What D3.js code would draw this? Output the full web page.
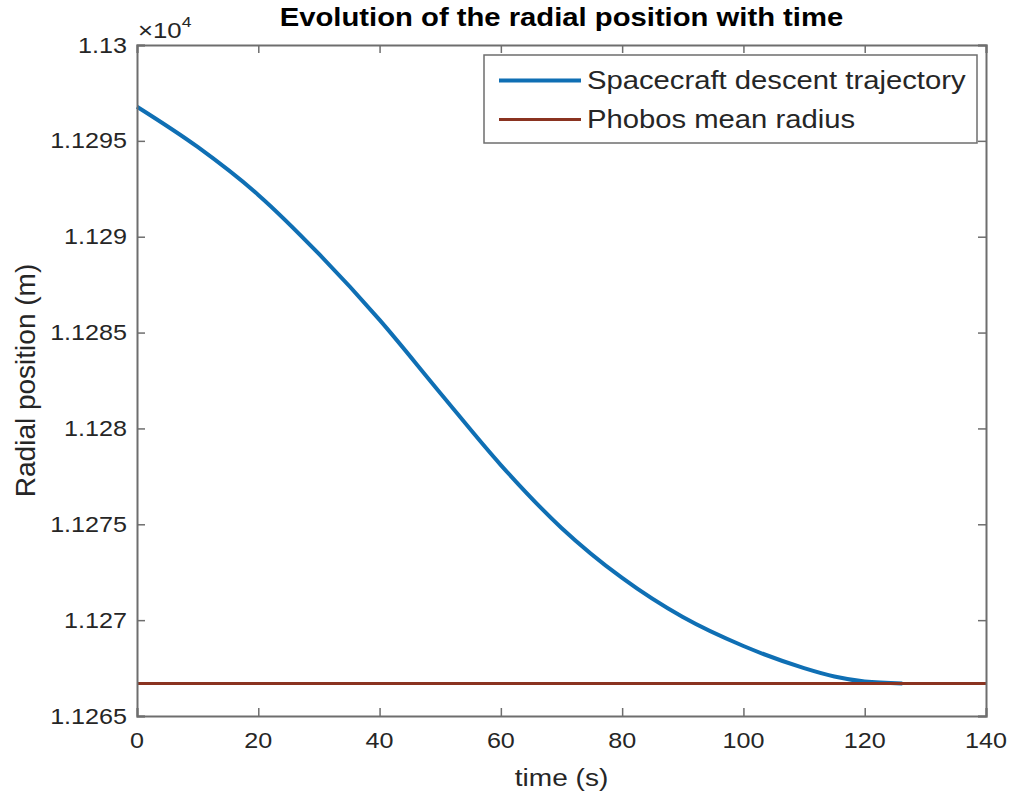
<!DOCTYPE html>
<html>
<head>
<meta charset="utf-8">
<script src="https://cdn.jsdelivr.net/npm/d3@7"></script>
<style>
  html, body { margin: 0; padding: 0; background: #fff; }
  svg { display: block; font-family: "Liberation Sans", Arial, Helvetica, sans-serif; }
</style>
</head>
<body>
<svg id="chart" width="1012" height="799"></svg>
<script>
// Descent trajectory samples: time (s) and radial distance (m)
const timeSec = [0, 10, 20, 30, 40, 50, 60, 70, 80, 90, 100, 110, 115, 120, 126.2];
const radiusM = [11296.78, 11294.68, 11292.18, 11289.10, 11285.66, 11281.85, 11278.09, 11274.81, 11272.20, 11270.16, 11268.65, 11267.50, 11267.06, 11266.80, 11266.70];

// Reference surface
const phobosRadius = 11266.7;

const xTicks = [0, 20, 40, 60, 80, 100, 120, 140];
const yTicks = [11265, 11270, 11275, 11280, 11285, 11290, 11295, 11300];
const yTickLabels = ["1.1265", "1.127", "1.1275", "1.128", "1.1285", "1.129", "1.1295", "1.13"];

const seriesNames = ["Spacecraft descent trajectory", "Phobos mean radius"];
const seriesColors = ["#0f6fb4", "#8a3320"];

const margin = { left: 137, right: 1012 - 986, top: 45, bottom: 799 - 716 };
const W = 1012, H = 799;
const stretch = 1.17;   // horizontal widening of all glyphs
const axisColor = "#6e6e6e";
const textColor = "#262626";

const svg = d3.select("#chart");

const x = d3.scaleLinear().domain([0, 140]).range([margin.left, W - margin.right]);
const y = d3.scaleLinear().domain([11265, 11300]).range([H - margin.bottom, margin.top]);

// helper: text widened horizontally around its anchor point
function label(g, px, py, str, opts) {
  const grp = g.append("g").attr("transform", `translate(${px},${py}) scale(${opts.sx || stretch},1)`);
  const t = grp.append("text")
    .attr("x", 0).attr("y", 0)
    .attr("text-anchor", opts.anchor || "start")
    .attr("font-size", opts.size)
    .attr("font-weight", opts.weight || "normal")
    .attr("fill", opts.fill || textColor)
    .text(str);
  return t;
}

// data lines
const pts = timeSec.map((t, i) => [t, radiusM[i]]);
const line = d3.line().x(d => x(d[0])).y(d => y(d[1])).curve(d3.curveMonotoneX);

const plot = svg.append("g");
plot.append("path")
  .datum(pts)
  .attr("d", line)
  .attr("fill", "none")
  .attr("stroke", seriesColors[0])
  .attr("stroke-width", 4)
  .attr("stroke-linecap", "butt");

plot.append("line")
  .attr("x1", x(0)).attr("x2", x(140))
  .attr("y1", y(phobosRadius)).attr("y2", y(phobosRadius))
  .attr("stroke", seriesColors[1])
  .attr("stroke-width", 3);

// axes (box with inward ticks on all four sides)
const tickLen = 8;
const axisBottom = d3.axisBottom(x).tickValues(xTicks).tickSize(-tickLen).tickFormat("");
const axisTop = d3.axisTop(x).tickValues(xTicks).tickSize(-tickLen).tickFormat("");
const axisLeft = d3.axisLeft(y).tickValues(yTicks).tickSize(-tickLen).tickFormat("");
const axisRight = d3.axisRight(y).tickValues(yTicks).tickSize(-tickLen).tickFormat("");

function styleAxis(g) {
  g.selectAll("path.domain").attr("stroke", axisColor).attr("stroke-width", 2);
  g.selectAll(".tick line").attr("stroke", axisColor).attr("stroke-width", 1.5);
}
svg.append("g").attr("transform", `translate(0,${y(11265)})`).call(axisBottom).call(styleAxis);
svg.append("g").attr("transform", `translate(0,${y(11300)})`).call(axisTop).call(styleAxis);
svg.append("g").attr("transform", `translate(${x(0)},0)`).call(axisLeft).call(styleAxis);
svg.append("g").attr("transform", `translate(${x(140)},0)`).call(axisRight).call(styleAxis);

// tick labels
const labels = svg.append("g");
xTicks.forEach(v => label(labels, x(v), y(11265) + 32, String(v), { size: 21.5, anchor: "middle" }));
yTicks.forEach((v, i) => label(labels, x(0) - 10, y(v) + 7.5, yTickLabels[i], { size: 21.5, anchor: "end" }));

// exponent marker
const expo = label(labels, x(0) + 1, 38, "", { size: 22, anchor: "start" });
expo.append("tspan").text("\u00d710");
expo.append("tspan").attr("font-size", 15).attr("dy", -11).text("4");

// axis titles
label(labels, (x(0) + x(140)) / 2, 786, "time (s)", { size: 24, anchor: "middle" });
svg.append("text")
  .attr("transform", `translate(35,${(y(11265) + y(11300)) / 2}) rotate(-90)`)
  .attr("text-anchor", "middle")
  .attr("font-size", 28)
  .attr("fill", textColor)
  .text("Radial position (m)");

// chart title
label(labels, (x(0) + x(140)) / 2, 26, "Evolution of the radial position with time", { size: 25, anchor: "middle", weight: "bold", fill: "#000" });

// legend
const legend = svg.append("g");
legend.append("rect")
  .attr("x", 484).attr("y", 55).attr("width", 977 - 484).attr("height", 143 - 55)
  .attr("fill", "#fff").attr("stroke", axisColor).attr("stroke-width", 1.5);
const rowY = [80.5, 119.5];
seriesNames.forEach((name, i) => {
  legend.append("line")
    .attr("x1", 499).attr("x2", 581).attr("y1", rowY[i]).attr("y2", rowY[i])
    .attr("stroke", seriesColors[i]).attr("stroke-width", i === 0 ? 4 : 3);
  label(legend, 587, rowY[i] + 8.5, name, { size: 25, anchor: "start" });
});
</script>
</body>
</html>
